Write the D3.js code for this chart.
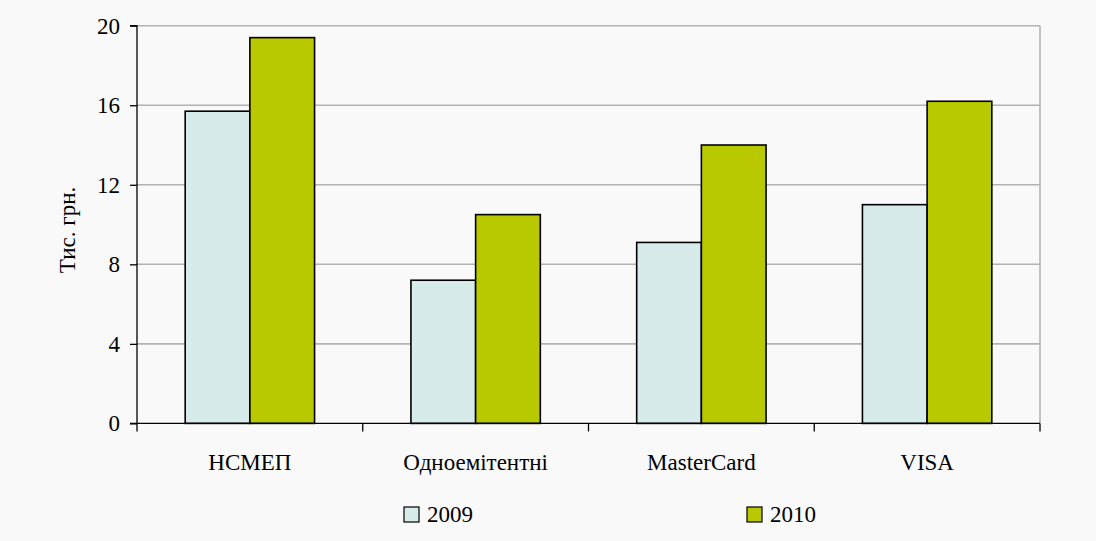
<!DOCTYPE html>
<html><head><meta charset="utf-8">
<script src="https://cdn.jsdelivr.net/npm/d3@7"></script>
<style>
html,body{margin:0;padding:0;background:#f9f9f9;}
svg{display:block;}
svg text{font-family:"Liberation Serif","Times New Roman",serif !important;}
</style></head>
<body><svg id="c" width="1096" height="541"></svg>
<script>
const categories = ["НСМЕП", "Одноемітентні", "MasterCard", "VISA"];
const seriesNames = ["2009", "2010"];
const values2009 = [15.7, 7.2, 9.1, 11.0];
const values2010 = [19.4, 10.5, 14.0, 16.2];
const yTicks = [0, 4, 8, 12, 16, 20];
const yTitle = "Тис. грн.";
const colors = ["#d8ebeb", "#b9c900"];

const FONT = "Liberation Serif";
const svg = d3.select("#c");
const m = {left: 137, right: 1040, top: 25.7, bottom: 423.4};
const x = d3.scaleBand().domain(categories).range([m.left, m.right]).paddingInner(0).paddingOuter(0);
const xs = d3.scaleBand().domain(seriesNames).range([0, x.bandwidth()]).paddingInner(0).paddingOuter(0.745);
const y = d3.scaleLinear().domain([0, 20]).range([m.bottom, m.top]);

// gridlines
svg.append("g").selectAll("line").data(yTicks.filter(d => d > 0)).join("line")
  .attr("x1", m.left).attr("x2", m.right)
  .attr("y1", d => y(d)).attr("y2", d => y(d))
  .attr("stroke", "#b3b3b3").attr("stroke-width", 1.6);
// right border
svg.append("line").attr("x1", m.right).attr("x2", m.right).attr("y1", m.top).attr("y2", m.bottom)
  .attr("stroke", "#b3b3b3").attr("stroke-width", 1.6);

// bars
const data = categories.map((c, i) => ({c, vals: [values2009[i], values2010[i]]}));
const g = svg.append("g");
data.forEach(d => {
  d.vals.forEach((v, j) => {
    g.append("rect")
      .attr("x", x(d.c) + xs(seriesNames[j]))
      .attr("y", y(v))
      .attr("width", xs.bandwidth())
      .attr("height", y(0) - y(v))
      .attr("fill", colors[j])
      .attr("stroke", "#000").attr("stroke-width", 1.6);
  });
});

// y axis
const yAxis = d3.axisLeft(y).tickValues(yTicks).tickSize(7).tickPadding(10).tickFormat(d3.format("d"));
const ya = svg.append("g").attr("transform", `translate(${m.left},0)`).call(yAxis)
  .attr("font-family", FONT).attr("font-size", 23);
ya.select(".domain").attr("stroke", "#000").attr("stroke-width", 1.3).attr("d", `M-7,${m.top}H0V${m.bottom}H-7`);
ya.selectAll(".tick line").attr("stroke", "#000").attr("stroke-width", 1.3);
ya.selectAll("text").attr("font-size", 23).attr("font-family", FONT).attr("fill", "#000");

// x axis
const xAxis = d3.axisBottom(x).tickSize(0).tickPadding(0);
const xa = svg.append("g").attr("transform", `translate(0,${m.bottom})`).call(xAxis)
  .attr("font-family", FONT).attr("font-size", 23);
xa.select(".domain").attr("stroke", "#000").attr("stroke-width", 1.3).attr("d", `M${m.left},0H${m.right}`);
xa.selectAll(".tick text").attr("font-size", 23).attr("font-family", FONT).attr("fill", "#000").attr("y", 47).attr("dy", 0);
// category separators
const sepX = categories.map(c => x(c)).concat([m.right]);
xa.append("g").selectAll("line").data(sepX).join("line")
  .attr("x1", d => d).attr("x2", d => d).attr("y1", 0).attr("y2", 8)
  .attr("stroke", "#000").attr("stroke-width", 1.3);

// y title
svg.append("text").attr("transform", `translate(75,230) rotate(-90)`)
  .attr("text-anchor", "middle").attr("font-size", 23).attr("font-family", FONT).attr("fill", "#000").text(yTitle);

// legend
const legendX = [404, 747];
seriesNames.forEach((s, j) => {
  const lg = svg.append("g").attr("transform", `translate(${legendX[j]},507)`);
  lg.append("rect").attr("x", 0).attr("y", 0).attr("width", 15).attr("height", 15)
    .attr("fill", colors[j]).attr("stroke", "#000").attr("stroke-width", 1.2);
  lg.append("text").attr("x", 23).attr("y", 15).attr("font-size", 23).attr("font-family", FONT).attr("fill", "#000").text(s);
});
</script></body></html>
